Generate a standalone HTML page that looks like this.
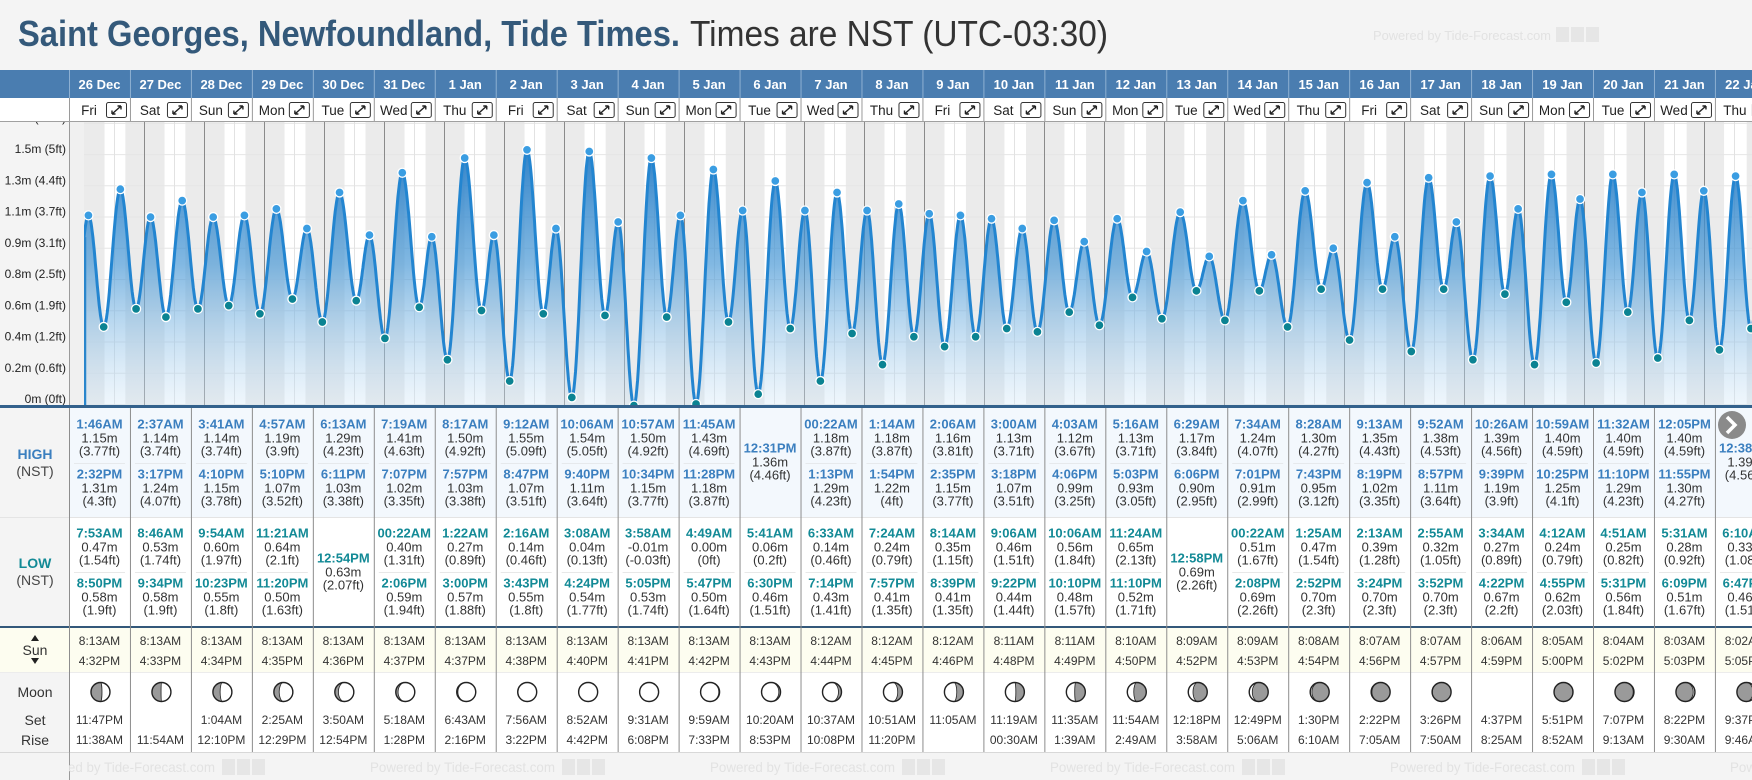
<!DOCTYPE html>
<html><head><meta charset="utf-8"><title>Saint Georges Tide Times</title>
<style>
html,body{margin:0;padding:0;background:#f4f4f4;width:1752px;height:780px;overflow:hidden;}
svg{display:block;font-family:"Liberation Sans",Arial,sans-serif;}
</style></head>
<body>
<svg id="root" width="1752" height="780" viewBox="0 0 1752 780" xmlns="http://www.w3.org/2000/svg">
<defs>
<linearGradient id="fillGrad" gradientUnits="userSpaceOnUse" x1="0" y1="150" x2="0" y2="404">
<stop offset="0" stop-color="#1f78c4" stop-opacity="0.92"/>
<stop offset="0.45" stop-color="#4c9ad6" stop-opacity="0.7"/>
<stop offset="1" stop-color="#cfe5f6" stop-opacity="0.35"/>
</linearGradient>
<clipPath id="chartClip"><rect x="84" y="121" width="1668" height="285"/></clipPath>
<clipPath id="tableClip"><rect x="69" y="0" width="1683" height="780"/></clipPath>
</defs>
<rect x="0" y="0" width="1752" height="780" fill="#f4f4f4"/>
<text x="18" y="46" font-size="36" font-weight="bold" fill="#34597a"><tspan textLength="662" lengthAdjust="spacingAndGlyphs">Saint Georges, Newfoundland, Tide Times.</tspan><tspan dx="10" font-weight="normal" fill="#333" textLength="418" lengthAdjust="spacingAndGlyphs">Times are NST (UTC-03:30)</tspan></text>
<text x="1373" y="40" font-size="13" fill="#e2e2e2" textLength="178" lengthAdjust="spacingAndGlyphs">Powered by Tide-Forecast.com</text>
<g id="topIcons">
<rect x="1556" y="27" width="13" height="15" fill="#e6e6e6"/><rect x="1571" y="27" width="13" height="15" fill="#e6e6e6"/><rect x="1586" y="27" width="13" height="15" fill="#e6e6e6"/>
</g>
<g id="chart"></g>
<g id="table"></g>
</svg>
<script>
const days = ['26 Dec','27 Dec','28 Dec','29 Dec','30 Dec','31 Dec','1 Jan','2 Jan','3 Jan','4 Jan','5 Jan','6 Jan','7 Jan','8 Jan','9 Jan','10 Jan','11 Jan','12 Jan','13 Jan','14 Jan','15 Jan','16 Jan','17 Jan','18 Jan','19 Jan','20 Jan','21 Jan','22 Jan'];
const dows = ['Fri','Sat','Sun','Mon','Tue','Wed','Thu','Fri','Sat','Sun','Mon','Tue','Wed','Thu','Fri','Sat','Sun','Mon','Tue','Wed','Thu','Fri','Sat','Sun','Mon','Tue','Wed','Thu'];
const highTimes = [['1:46AM','2:32PM'],['2:37AM','3:17PM'],['3:41AM','4:10PM'],['4:57AM','5:10PM'],['6:13AM','6:11PM'],['7:19AM','7:07PM'],['8:17AM','7:57PM'],['9:12AM','8:47PM'],['10:06AM','9:40PM'],['10:57AM','10:34PM'],['11:45AM','11:28PM'],['12:31PM'],['00:22AM','1:13PM'],['1:14AM','1:54PM'],['2:06AM','2:35PM'],['3:00AM','3:18PM'],['4:03AM','4:06PM'],['5:16AM','5:03PM'],['6:29AM','6:06PM'],['7:34AM','7:01PM'],['8:28AM','7:43PM'],['9:13AM','8:19PM'],['9:52AM','8:57PM'],['10:26AM','9:39PM'],['10:59AM','10:25PM'],['11:32AM','11:10PM'],['12:05PM','11:55PM'],['12:38PM']];
const highM = [[1.15,1.31],[1.14,1.24],[1.14,1.15],[1.19,1.07],[1.29,1.03],[1.41,1.02],[1.50,1.03],[1.55,1.07],[1.54,1.11],[1.50,1.15],[1.43,1.18],[1.36],[1.18,1.29],[1.18,1.22],[1.16,1.15],[1.13,1.07],[1.12,0.99],[1.13,0.93],[1.17,0.90],[1.24,0.91],[1.30,0.95],[1.35,1.02],[1.38,1.11],[1.39,1.19],[1.40,1.25],[1.40,1.29],[1.40,1.30],[1.39]];
const highFt = [['3.77','4.3'],['3.74','4.07'],['3.74','3.78'],['3.9','3.52'],['4.23','3.38'],['4.63','3.35'],['4.92','3.38'],['5.09','3.51'],['5.05','3.64'],['4.92','3.77'],['4.69','3.87'],['4.46'],['3.87','4.23'],['3.87','4'],['3.81','3.77'],['3.71','3.51'],['3.67','3.25'],['3.71','3.05'],['3.84','2.95'],['4.07','2.99'],['4.27','3.12'],['4.43','3.35'],['4.53','3.64'],['4.56','3.9'],['4.59','4.1'],['4.59','4.23'],['4.59','4.27'],['4.56']];
const lowTimes = [['7:53AM','8:50PM'],['8:46AM','9:34PM'],['9:54AM','10:23PM'],['11:21AM','11:20PM'],['12:54PM'],['00:22AM','2:06PM'],['1:22AM','3:00PM'],['2:16AM','3:43PM'],['3:08AM','4:24PM'],['3:58AM','5:05PM'],['4:49AM','5:47PM'],['5:41AM','6:30PM'],['6:33AM','7:14PM'],['7:24AM','7:57PM'],['8:14AM','8:39PM'],['9:06AM','9:22PM'],['10:06AM','10:10PM'],['11:24AM','11:10PM'],['12:58PM'],['00:22AM','2:08PM'],['1:25AM','2:52PM'],['2:13AM','3:24PM'],['2:55AM','3:52PM'],['3:34AM','4:22PM'],['4:12AM','4:55PM'],['4:51AM','5:31PM'],['5:31AM','6:09PM'],['6:10AM','6:47PM']];
const lowM = [[0.47,0.58],[0.53,0.58],[0.60,0.55],[0.64,0.50],[0.63],[0.40,0.59],[0.27,0.57],[0.14,0.55],[0.04,0.54],[-0.01,0.53],[0.00,0.50],[0.06,0.46],[0.14,0.43],[0.24,0.41],[0.35,0.41],[0.46,0.44],[0.56,0.48],[0.65,0.52],[0.69],[0.51,0.69],[0.47,0.70],[0.39,0.70],[0.32,0.70],[0.27,0.67],[0.24,0.62],[0.25,0.56],[0.28,0.51],[0.33,0.46]];
const lowFt = [['1.54','1.9'],['1.74','1.9'],['1.97','1.8'],['2.1','1.63'],['2.07'],['1.31','1.94'],['0.89','1.88'],['0.46','1.8'],['0.13','1.77'],['-0.03','1.74'],['0','1.64'],['0.2','1.51'],['0.46','1.41'],['0.79','1.35'],['1.15','1.35'],['1.51','1.44'],['1.84','1.57'],['2.13','1.71'],['2.26'],['1.67','2.26'],['1.54','2.3'],['1.28','2.3'],['1.05','2.3'],['0.89','2.2'],['0.79','2.03'],['0.82','1.84'],['0.92','1.67'],['1.08','1.51']];
const sunrise = ['8:13AM','8:13AM','8:13AM','8:13AM','8:13AM','8:13AM','8:13AM','8:13AM','8:13AM','8:13AM','8:13AM','8:13AM','8:12AM','8:12AM','8:12AM','8:11AM','8:11AM','8:10AM','8:09AM','8:09AM','8:08AM','8:07AM','8:07AM','8:06AM','8:05AM','8:04AM','8:03AM','8:02AM'];
const sunset = ['4:32PM','4:33PM','4:34PM','4:35PM','4:36PM','4:37PM','4:37PM','4:38PM','4:40PM','4:41PM','4:42PM','4:43PM','4:44PM','4:45PM','4:46PM','4:48PM','4:49PM','4:50PM','4:52PM','4:53PM','4:54PM','4:56PM','4:57PM','4:59PM','5:00PM','5:02PM','5:03PM','5:05PM'];
const moonSet = ['11:47PM','','1:04AM','2:25AM','3:50AM','5:18AM','6:43AM','7:56AM','8:52AM','9:31AM','9:59AM','10:20AM','10:37AM','10:51AM','11:05AM','11:19AM','11:35AM','11:54AM','12:18PM','12:49PM','1:30PM','2:22PM','3:26PM','4:37PM','5:51PM','7:07PM','8:22PM','9:37PM'];
const moonRise = ['11:38AM','11:54AM','12:10PM','12:29PM','12:54PM','1:28PM','2:16PM','3:22PM','4:42PM','6:08PM','7:33PM','8:53PM','10:08PM','11:20PM','','00:30AM','1:39AM','2:49AM','3:58AM','5:06AM','6:10AM','7:05AM','7:50AM','8:25AM','8:52AM','9:13AM','9:30AM','9:46AM'];
const moonIllum = [0.42,0.52,0.62,0.72,0.81,0.88,0.94,0.98,1.0,0.99,0.96,0.91,0.84,0.75,0.65,0.55,0.44,0.34,0.25,0.16,0.09,0.04,0.01,null,0.01,0.04,0.09,0.15];
const moonWaxing = [1,1,1,1,1,1,1,1,1,0,0,0,0,0,0,0,0,0,0,0,0,0,0,0,1,1,1,1];
const edgeBefore = [-3.9, 0.55];
const edgeAfter = [24*28+1.2, 1.30];
const yTickM = [0,0.1905,0.381,0.5715,0.762,0.9525,1.143,1.3335,1.524,1.7145];
const yTickLabels = ['0m (0ft)','0.2m (0.6ft)','0.4m (1.2ft)','0.6m (1.9ft)','0.8m (2.5ft)','0.9m (3.1ft)','1.1m (3.7ft)','1.3m (4.4ft)','1.5m (5ft)','1.7m (5.6ft)'];

const NS='http://www.w3.org/2000/svg';
const chart=document.getElementById('chart');
const table=document.getElementById('table');
const DAYW=60, X0=84, Y0=404, PXM=164, COL0=69, COLW=60.96;
function xT(h){return X0+h*DAYW/24;}
function yV(v){return Y0-v*PXM;}
function colX(i){return COL0+i*COLW;}
function toH(s){const m=s.match(/(\d+):(\d+)(AM|PM)/);let h=(+m[1])%12;if(m[3]==='PM')h+=12;return h+(+m[2])/60;}
function el(tag,parent){const e=document.createElementNS(NS,tag);parent.appendChild(e);return e;}
function txt(parent,x,y,s,size,fill,weight,anchor){const t=el('text',parent);t.setAttribute('x',x);t.setAttribute('y',y);t.setAttribute('font-size',size);t.setAttribute('fill',fill);if(weight)t.setAttribute('font-weight',weight);t.setAttribute('text-anchor',anchor||'middle');t.textContent=s;return t;}
function rect(parent,x,y,w,h,fill){const r=el('rect',parent);r.setAttribute('x',x);r.setAttribute('y',y);r.setAttribute('width',w);r.setAttribute('height',h);r.setAttribute('fill',fill);return r;}
function line(parent,x1,y1,x2,y2,stroke,w){const l=el('line',parent);l.setAttribute('x1',x1);l.setAttribute('y1',y1);l.setAttribute('x2',x2);l.setAttribute('y2',y2);l.setAttribute('stroke',stroke);l.setAttribute('stroke-width',w||1);return l;}

/* ---------- header ---------- */
let r=rect(table,0,70,1752,28,'#4a7db0');


r=rect(table,0,98,1752,23,'#ffffff');


line(table,0,121.5,1752,121.5,'#a0a0a0',1);
const tg=el('g',table);tg.setAttribute('clip-path','url(#tableClip)');
for(let i=0;i<days.length;i++){
  const x=colX(i), cx=x+COLW/2;
  const s1=line(tg,x+0.5,70,x+0.5,98,'#8eb0d2',1);
  
  
  const s2=line(tg,x+0.5,98,x+0.5,121,'#9a9a9a',1);
  
  
  const dt=txt(tg,cx,89,days[i],13,'#ffffff','bold');
  
  
  const dw=txt(tg,x+20,115,dows[i],13.5,'#222');
  
  
  const eb=el('g',tg);
  
  
  const br=el('rect',eb);br.setAttribute('x',x+37.5);br.setAttribute('y',102.5);br.setAttribute('width',20);br.setAttribute('height',15);br.setAttribute('rx',2);br.setAttribute('fill','#fff');br.setAttribute('stroke','#333');
  const ar=el('path',eb);ar.setAttribute('d',`M${x+43} ${114}L${x+52} ${106}M${x+43} ${114}l0 -3.5M${x+43} ${114}l3.5 0M${x+52} ${106}l-3.5 0M${x+52} ${106}l0 3.5`);ar.setAttribute('stroke','#222');ar.setAttribute('stroke-width','1.4');ar.setAttribute('fill','none');
}

/* ---------- chart ---------- */
r=rect(chart,0,122,69,283,'#f4f4f4');


line(chart,69.5,122,69.5,405,'#9a9a9a',1);
r=rect(chart,70,122,14,283,'#f0f0f0');


const cg=el('g',chart);cg.setAttribute('clip-path','url(#chartClip)');


rect(cg,84,121,1668,285,'#ebebeb');
for(let i=0;i<days.length;i++){
  const a=xT(i*24+toH(sunrise[i])), b=xT(i*24+toH(sunset[i]));
  const d=rect(cg,a,121,b-a,285,'#ffffff');
  
  
}
for(let k=0;k<yTickM.length;k++){
  const g=line(cg,84,yV(yTickM[k])+0.5,1752,yV(yTickM[k])+0.5,'#e6e6e6',1);
  
  
}
for(let i=0;i<=days.length;i++){
  const n=line(cg,xT(i*24+12)+0.5,121,xT(i*24+12)+0.5,406,'#e2e2e2',1);
  
  
  if(i>0){
    const m=line(cg,xT(i*24)+0.5,121,xT(i*24)+0.5,406,'#8a8a8a',1);
    
    
  }
}
/* extremes */
const ext=[];
for(let i=0;i<days.length;i++){
  highTimes[i].forEach((t,j)=>ext.push({t:i*24+toH(t),v:highM[i][j],hi:true}));
  lowTimes[i].forEach((t,j)=>ext.push({t:i*24+toH(t),v:lowM[i][j],hi:false}));
}
ext.sort((a,b)=>a.t-b.t);
const pts=[{t:edgeBefore[0],v:edgeBefore[1]},...ext,{t:edgeAfter[0],v:edgeAfter[1]}];
let curve=[];
for(let k=0;k<pts.length-1;k++){
  const a=pts[k], b=pts[k+1];
  for(let s=0;s<24;s++){
    const f=s/24, t=a.t+(b.t-a.t)*f;
    if(t<0)continue;
    const v=a.v+(b.v-a.v)*(1-Math.cos(Math.PI*f))/2;
    curve.push([xT(t),yV(v)]);
  }
}
const lp=pts[pts.length-1];curve.push([xT(lp.t),yV(lp.v)]);
/* value at t=0 */
(function(){const a=pts[0],b=pts[1];const f=(0-a.t)/(b.t-a.t);const v=a.v+(b.v-a.v)*(1-Math.cos(Math.PI*f))/2;curve.unshift([xT(0),yV(v)]);})();
const dLine='M'+curve.map(p=>p[0].toFixed(1)+' '+p[1].toFixed(1)).join('L');
const area=el('path',cg);
area.setAttribute('d',dLine+`L${curve[curve.length-1][0].toFixed(1)} 406L${xT(0)} 406Z`);
area.setAttribute('fill','url(#fillGrad)');


const edge=line(cg,xT(0)+1,curve[0][1],xT(0)+1,406,'#2a86cc',2.5);


const cl=el('path',cg);
cl.setAttribute('d',dLine);cl.setAttribute('fill','none');cl.setAttribute('stroke','#2385d0');cl.setAttribute('stroke-width','3');cl.setAttribute('stroke-linejoin','round');


ext.forEach(p=>{
  const c=el('circle',cg);
  c.setAttribute('cx',xT(p.t));c.setAttribute('cy',yV(p.v));c.setAttribute('r',4.5);
  c.setAttribute('fill',p.hi?'#3a9de2':'#0b8392');c.setAttribute('stroke','#fff');c.setAttribute('stroke-width','1.3');
  
  
});
for(let k=0;k<yTickM.length;k++){
  const t=txt(chart,66,yV(yTickM[k])-1,yTickLabels[k],12,'#222',null,'end');
  
  
}
rect(chart,0,98,69,23,'#ffffff');
r=rect(chart,0,405,1752,3,'#33618c');



/* ---------- table ---------- */
r=rect(table,0,408,1752,109,'#f3f8fd');


r=rect(table,0,517,1752,109,'#ffffff');


r=rect(table,0,628,1752,44,'#fdfdf0');


r=rect(table,0,672,1752,80,'#ffffff');


r=rect(table,0,752,1752,28,'#f4f4f4');


r=rect(table,0,408,69,220,'#f4f4f4');


r=rect(table,0,672,69,80,'#f4f4f4');


line(table,0,517.5,1752,517.5,'#e4e4e4',1);
line(table,0,672.5,1752,672.5,'#ececec',1);
line(table,0,752.5,1752,752.5,'#d8d8d8',1);
r=rect(table,0,626,1752,2,'#33587a');


line(table,69.5,408,69.5,780,'#9a9a9a',1);
/* labels */
let L=txt(table,35,459,'HIGH',14,'#3b7fbf','bold');


L=txt(table,35,476,'(NST)',14,'#444');


L=txt(table,35,568,'LOW',14,'#138a96','bold');


L=txt(table,35,585,'(NST)',14,'#444');


L=txt(table,35,655,'Sun',14,'#333');


L=el('path',table);L.setAttribute('d','M31 641L35 635L39 641ZM31 658L39 658L35 664Z');L.setAttribute('fill','#222');


L=txt(table,35,697,'Moon',14,'#333');


L=txt(table,35,725,'Set',14,'#333');


L=txt(table,35,745,'Rise',14,'#333');



const bg=el('g',table);bg.setAttribute('clip-path','url(#tableClip)');
function tideBlock(g,cx,yc,time,m,ft,color,name){
  const a=txt(g,cx,yc+4.5,time,13,color,'bold');
  
  
  const b=txt(g,cx,yc+18.5,m.toFixed(2)+'m',13,'#333');
  
  
  const c=txt(g,cx,yc+31.5,'('+ft+'ft)',13,'#333');
  
  
}
for(let i=0;i<days.length;i++){
  const x=colX(i), cx=x+COLW/2;
  const sp=line(bg,x+0.5,408,x+0.5,752,'#8d8d8d',1);
  
  
  const H=highTimes[i];
  if(H.length===2){
    tideBlock(bg,cx,424,H[0],highM[i][0],highFt[i][0],'#3b7fbf','high-tide');
    tideBlock(bg,cx,474,H[1],highM[i][1],highFt[i][1],'#3b7fbf','high-tide');
    line(bg,x+5,463.5,x+COLW-5,463.5,'#e6e9ec',1);
  } else {
    tideBlock(bg,cx,448,H[0],highM[i][0],highFt[i][0],'#3b7fbf','high-tide');
  }
  const Lo=lowTimes[i];
  if(Lo.length===2){
    tideBlock(bg,cx,533,Lo[0],lowM[i][0],lowFt[i][0],'#138a96','low-tide');
    tideBlock(bg,cx,583,Lo[1],lowM[i][1],lowFt[i][1],'#138a96','low-tide');
    line(bg,x+5,572.5,x+COLW-5,572.5,'#e8e8e8',1);
  } else {
    tideBlock(bg,cx,558,Lo[0],lowM[i][0],lowFt[i][0],'#138a96','low-tide');
  }
  let t=txt(bg,cx,645,sunrise[i],12,'#333');
  
  
  t=txt(bg,cx,665,sunset[i],12,'#333');
  
  
  t=txt(bg,cx,724,moonSet[i],12,'#333');
  
  
  t=txt(bg,cx,744,moonRise[i],12,'#333');
  
  
  const k=moonIllum[i];
  if(k!==null){
    const mg=el('g',bg);
    
    
    const R=9.5, my=692, mx=cx+1;
    const base=el('circle',mg);base.setAttribute('cx',mx);base.setAttribute('cy',my);base.setAttribute('r',R);base.setAttribute('fill','#9a9a9a');
    if(k>0.005){
      const rx=Math.abs(1-2*k)*R, gib=k>0.5;
      let d;
      if(moonWaxing[i]) d=`M${mx} ${my-R}A${R} ${R} 0 0 1 ${mx} ${my+R}A${rx} ${R} 0 0 ${gib?1:0} ${mx} ${my-R}Z`;
      else d=`M${mx} ${my-R}A${R} ${R} 0 0 0 ${mx} ${my+R}A${rx} ${R} 0 0 ${gib?0:1} ${mx} ${my-R}Z`;
      const lit=el('path',mg);lit.setAttribute('d',d);lit.setAttribute('fill','#fff');lit.setAttribute('stroke','#222');lit.setAttribute('stroke-width','0.8');
    }
    const ol=el('circle',mg);ol.setAttribute('cx',mx);ol.setAttribute('cy',my);ol.setAttribute('r',R);ol.setAttribute('fill','none');ol.setAttribute('stroke','#222');ol.setAttribute('stroke-width','1.4');
  }
}
/* footer watermark */
for(let s=30;s<1752;s+=340){
  const f=txt(bg,s,772,'Powered by Tide-Forecast.com',14,'#e2e2e2',null,'start');
  f.setAttribute('textLength','185');f.setAttribute('lengthAdjust','spacingAndGlyphs');
  
  
  for(let q=0;q<3;q++){
    const ic=rect(bg,s+192+q*15,759,13,16,'#e6e6e6');
    
    
  }
}
/* next button */
const nb=el('g',table);


const nc=el('circle',nb);nc.setAttribute('cx',1732);nc.setAttribute('cy',425);nc.setAttribute('r',14);nc.setAttribute('fill','#8a8a8a');
const nch=el('path',nb);nch.setAttribute('d','M1727 417L1735 425L1727 433');nch.setAttribute('stroke','#fff');nch.setAttribute('stroke-width','3.5');nch.setAttribute('fill','none');
</script>
</body></html>
